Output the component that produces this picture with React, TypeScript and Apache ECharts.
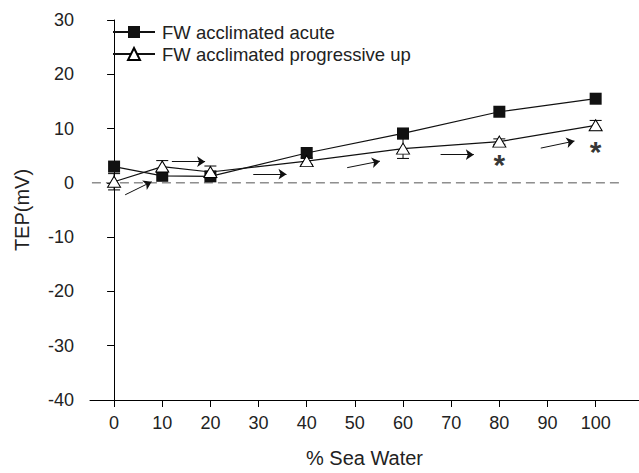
import React, { useEffect, useRef } from "react";
import * as echarts from "echarts";

const seaWater = [0, 10, 20, 40, 60, 80, 100];
const acute = [3.0, 1.3, 1.2, 5.5, 9.1, 13.1, 15.5];
const progressive = [0.2, 3.0, 2.0, 4.0, 6.3, 7.6, 10.6];
const progressiveErr = [1.5, 1.1, 1.1, 0.6, 1.8, 0.5, 0.9];
const xTicks = [0, 10, 20, 30, 40, 50, 60, 70, 80, 90, 100];
const starPoints = [
  [80, 4.6],
  [100, 7.1],
];
const arrows = [
  [[2.3, -2.2], [7.8, 0.2]],
  [[12.0, 3.9], [18.9, 3.9]],
  [[28.9, 1.6], [35.8, 1.6]],
  [[48.4, 2.8], [55.2, 4.0]],
  [[67.8, 5.2], [74.7, 5.2]],
  [[88.6, 6.4], [95.6, 7.7]],
];
const zeroLine = [
  [-4.6, 0],
  [105.3, 0],
];

const FONT = "'Liberation Sans', Arial, Helvetica, sans-serif";

export default function App() {
  const ref = useRef<HTMLDivElement>(null);
  useEffect(() => {
    if (!ref.current) return;
    const chart = echarts.init(ref.current, null, { renderer: "svg" });
    const option: any = {
      animation: false,
      backgroundColor: "#fff",
      textStyle: { fontFamily: FONT },
      grid: { left: 90, right: 0, top: 20, bottom: 69, containLabel: false },
      legend: {
        orient: "vertical",
        left: 107,
        top: 17,
        itemWidth: 42,
        itemHeight: 15,
        itemGap: 2,
        data: ["FW acclimated acute", "FW acclimated progressive up"],
        textStyle: { fontSize: 18.5, lineHeight: 20, color: "#222", fontFamily: FONT, padding: [0, 0, 0, 2] },
      },
      xAxis: {
        type: "value",
        min: -5,
        max: 109,
        name: "% Sea Water",
        nameLocation: "middle",
        nameGap: 48,
        nameTextStyle: { fontSize: 20, color: "#222", fontFamily: FONT },
        axisLine: { show: true, onZero: false, lineStyle: { color: "#000", width: 1 } },
        axisTick: { show: true, length: 7, customValues: xTicks, lineStyle: { color: "#000" } },
        axisLabel: { customValues: xTicks, fontSize: 18, color: "#222", margin: 14, fontFamily: FONT },
        splitLine: { show: false },
      },
      yAxis: {
        type: "value",
        min: -40,
        max: 30,
        interval: 10,
        name: "TEP(mV)",
        nameLocation: "middle",
        nameGap: 58,
        nameRotate: 90,
        nameTextStyle: { fontSize: 20, color: "#222", fontFamily: FONT },
        axisLine: { show: true, lineStyle: { color: "#000", width: 1 } },
        axisTick: { show: true, length: 7, lineStyle: { color: "#000" } },
        axisLabel: { fontSize: 18, color: "#222", margin: 16, fontFamily: FONT },
        splitLine: { show: false },
      },
      series: [
        {
          name: "zero",
          type: "line",
          data: zeroLine,
          symbol: "none",
          lineStyle: { color: "#555", width: 1, type: [9, 5] },
          silent: true,
          z: 1,
        },
        {
          name: "arrows",
          type: "lines",
          coordinateSystem: "cartesian2d",
          data: arrows.map((c) => ({ coords: c })),
          symbol: ["none", "arrow"],
          symbolSize: 8,
          lineStyle: { color: "#111", width: 1, opacity: 1 },
          silent: true,
          z: 2,
        },
        {
          name: "err",
          type: "custom",
          data: seaWater.map((x, i) => [x, progressive[i], progressiveErr[i]]),
          renderItem: (params: any, api: any) => {
            const x = api.value(0);
            const y = api.value(1);
            const e = api.value(2);
            const hi = api.coord([x, y + e]);
            const lo = api.coord([x, y - e]);
            const cw = 6;
            const st = { stroke: "#000", lineWidth: 1 };
            return {
              type: "group",
              children: [
                { type: "line", shape: { x1: hi[0], y1: hi[1], x2: lo[0], y2: lo[1] }, style: st },
                { type: "line", shape: { x1: hi[0] - cw, y1: hi[1], x2: hi[0] + cw, y2: hi[1] }, style: st },
                { type: "line", shape: { x1: lo[0] - cw, y1: lo[1], x2: lo[0] + cw, y2: lo[1] }, style: st },
              ],
            };
          },
          silent: true,
          z: 3,
        },
        {
          name: "FW acclimated acute",
          type: "line",
          data: seaWater.map((x, i) => [x, acute[i]]),
          symbol: "rect",
          symbolSize: 12,
          itemStyle: { color: "#111", borderColor: "#111", borderWidth: 0 },
          lineStyle: { color: "#111", width: 1.2 },
          z: 4,
        },
        {
          name: "FW acclimated progressive up",
          type: "line",
          data: seaWater.map((x, i) => [x, progressive[i]]),
          symbol: "triangle",
          symbolSize: [13, 11],
          itemStyle: { color: "#fff", borderColor: "#000", borderWidth: 1 },
          lineStyle: { color: "#111", width: 1.2 },
          z: 5,
        },
        {
          name: "stars",
          type: "scatter",
          data: starPoints,
          symbolSize: 1,
          itemStyle: { color: "rgba(0,0,0,0)" },
          label: {
            show: true,
            position: "inside",
            formatter: "*",
            fontSize: 30,
            fontWeight: "bold",
            color: "#000",
            offset: [0, 7],
            fontFamily: FONT,
          },
          silent: true,
          z: 6,
        },
      ],
    };
    chart.setOption(option);
    return () => chart.dispose();
  }, []);
  return <div ref={ref} style={{ width: 639, height: 473, position: "absolute", left: 0, top: 0 }} />;
}
